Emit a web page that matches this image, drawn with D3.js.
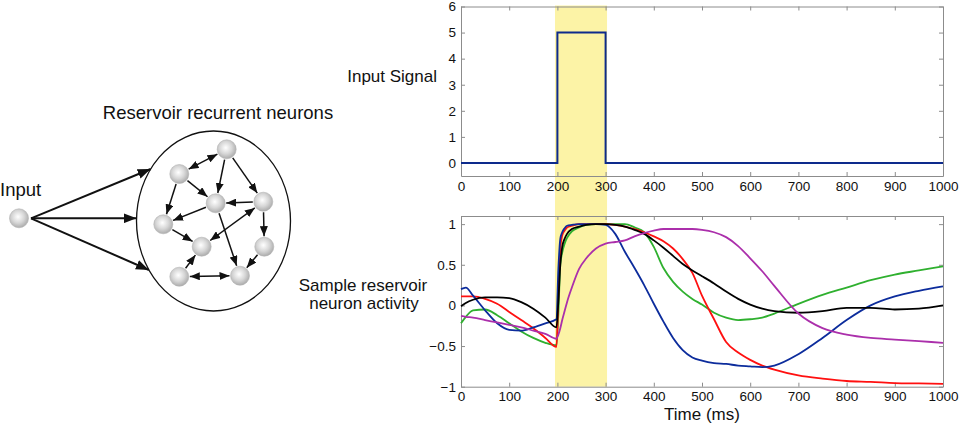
<!DOCTYPE html>
<html>
<head>
<meta charset="utf-8">
<script src="https://cdn.jsdelivr.net/npm/d3@7"></script>
<style>
  body { margin: 0; background: #fff; }
  svg { display: block; }
  text { font-family: "Liberation Sans", Arial, Helvetica, sans-serif; fill: #111; }
</style>
</head>
<body>
<div id="chart"></div>
<script>
// ---- data ----
const timeMs = [0, 10, 25, 50, 75, 100, 125, 150, 175, 198, 202, 206, 210, 215, 220, 230, 245, 260, 280, 300,
  320, 340, 360, 380, 400, 420, 440, 460, 480, 500, 525, 550, 575, 600, 625, 650, 700, 750, 800, 850, 900, 950, 1000];

const blueNeuron = [0.20, 0.22, 0.12, -0.06, -0.22, -0.30, -0.31, -0.27, -0.22, -0.17, 0.45, 0.82, 0.90, 0.95, 0.98, 0.99, 1.0, 1.0, 1.0, 0.99,
  0.88, 0.66, 0.46, 0.25, 0.02, -0.20, -0.40, -0.55, -0.64, -0.68, -0.71, -0.72, -0.74, -0.75, -0.76, -0.74, -0.60, -0.40, -0.18, 0.0, 0.11, 0.18, 0.235];
const redNeuron = [0.11, 0.11, 0.11, 0.08, 0.02, -0.08, -0.18, -0.28, -0.40, -0.51, 0.10, 0.70, 0.86, 0.92, 0.96, 0.98, 1.0, 1.0, 1.0, 1.0,
  0.99, 0.97, 0.94, 0.90, 0.85, 0.79, 0.70, 0.57, 0.40, 0.12, -0.17, -0.45, -0.58, -0.67, -0.74, -0.79, -0.86, -0.90, -0.93, -0.94, -0.955, -0.96, -0.965];
const greenNeuron = [-0.22, -0.14, -0.06, -0.05, -0.12, -0.22, -0.32, -0.40, -0.46, -0.49, -0.10, 0.50, 0.65, 0.76, 0.83, 0.91, 0.96, 0.99, 1.0, 1.0,
  1.0, 1.0, 0.96, 0.90, 0.72, 0.46, 0.29, 0.17, 0.08, 0.01, -0.09, -0.15, -0.18, -0.17, -0.15, -0.10, 0.02, 0.13, 0.22, 0.31, 0.38, 0.43, 0.48];
const blackNeuron = [-0.01, 0.03, 0.07, 0.10, 0.10, 0.09, 0.04, -0.04, -0.15, -0.27, 0.05, 0.50, 0.72, 0.82, 0.88, 0.94, 0.97, 0.99, 1.0, 1.0,
  0.99, 0.97, 0.93, 0.88, 0.80, 0.71, 0.61, 0.51, 0.43, 0.36, 0.27, 0.17, 0.08, 0.01, -0.04, -0.07, -0.09, -0.07, -0.03, -0.03, -0.05, -0.04, 0.0];
const magentaNeuron = [-0.13, -0.14, -0.15, -0.18, -0.21, -0.24, -0.27, -0.31, -0.35, -0.41, -0.36, -0.28, -0.18, -0.07, 0.04, 0.22, 0.45, 0.58, 0.70, 0.76,
  0.78, 0.80, 0.85, 0.89, 0.92, 0.94, 0.94, 0.94, 0.94, 0.93, 0.90, 0.84, 0.73, 0.58, 0.42, 0.24, -0.10, -0.28, -0.36, -0.40, -0.42, -0.44, -0.46];

const neuronSeries = [
  {name: "green", values: greenNeuron, color: "#2fb02f"},
  {name: "red", values: redNeuron, color: "#ff1010"},
  {name: "blue", values: blueNeuron, color: "#0c2c9c"},
  {name: "black", values: blackNeuron, color: "#000000"},
  {name: "magenta", values: magentaNeuron, color: "#ab2fab"}
];

const signalTime = [0, 200, 200, 300, 300, 1000];
const signalValue = [0, 0, 5, 5, 0, 0];
const stimWindow = [195, 303];

const timeTicks = [0, 100, 200, 300, 400, 500, 600, 700, 800, 900, 1000];
const signalTicks = [0, 1, 2, 3, 4, 5, 6];
const activityTicks = [-1, -0.5, 0, 0.5, 1];

// reservoir diagram
const reservoirNodes = [
  [226.7, 149.3], [179.3, 174], [215.7, 203.3], [263.3, 201.7], [163.3, 224.3],
  [201.7, 246.7], [264.3, 246.7], [179.3, 276.7], [240, 275.7]
];
const reservoirEdges = [
  [0, 1, true], [0, 2, false], [0, 3, false], [1, 4, false], [1, 2, false], [3, 2, false], [2, 4, false],
  [2, 8, false], [3, 5, true], [3, 6, false], [4, 5, false], [6, 8, false], [7, 5, false], [7, 8, true]
];
const inputNode = [19, 218.3];
const inputTargetsY = [169, 218.3, 270];

// ---- drawing ----
const W = 964, H = 425;
const svg = d3.select("#chart").append("svg").attr("width", W).attr("height", H);

const defs = svg.append("defs");
const grad = defs.append("radialGradient").attr("id", "ball")
  .attr("cx", "45%").attr("cy", "42%").attr("r", "60%");
grad.append("stop").attr("offset", "0%").attr("stop-color", "#ffffff");
grad.append("stop").attr("offset", "55%").attr("stop-color", "#d6d6d6");
grad.append("stop").attr("offset", "100%").attr("stop-color", "#a9a9a9");

function marker(id, len, half) {
  defs.append("marker").attr("id", id)
    .attr("viewBox", `0 ${-half} ${len} ${half * 2}`)
    .attr("refX", len).attr("refY", 0)
    .attr("markerUnits", "userSpaceOnUse")
    .attr("markerWidth", len).attr("markerHeight", half * 2)
    .attr("orient", "auto-start-reverse")
    .append("path").attr("d", `M0,${-half}L${len},0L0,${half}Z`).attr("fill", "#111");
}
marker("arrSmall", 10, 4);
marker("arrBig", 13, 5);

// diagram
const ell = {cx: 213.5, cy: 221, rx: 77, ry: 90};
const diag = svg.append("g");
diag.append("ellipse").attr("cx", ell.cx).attr("cy", ell.cy).attr("rx", ell.rx).attr("ry", ell.ry)
  .attr("fill", "none").attr("stroke", "#111").attr("stroke-width", 1.3);

inputTargetsY.forEach(function (ty) {
  const tx = ell.cx - ell.rx * Math.sqrt(1 - Math.pow((ty - ell.cy) / ell.ry, 2));
  diag.append("line")
    .attr("x1", inputNode[0] + 12).attr("y1", inputNode[1])
    .attr("x2", tx).attr("y2", ty)
    .attr("stroke", "#111").attr("stroke-width", 2)
    .attr("marker-end", "url(#arrBig)");
});

const nodeR = 9.5;
reservoirEdges.forEach(function (e) {
  const a = reservoirNodes[e[0]], b = reservoirNodes[e[1]];
  const dx = b[0] - a[0], dy = b[1] - a[1], len = Math.hypot(dx, dy);
  const ux = dx / len, uy = dy / len, off = nodeR + 1;
  const l = diag.append("line")
    .attr("x1", a[0] + ux * off).attr("y1", a[1] + uy * off)
    .attr("x2", b[0] - ux * off).attr("y2", b[1] - uy * off)
    .attr("stroke", "#111").attr("stroke-width", 1.5)
    .attr("marker-end", "url(#arrSmall)");
  if (e[2]) l.attr("marker-start", "url(#arrSmall)");
});

diag.selectAll("circle.node")
  .data(reservoirNodes.concat([inputNode]))
  .join("circle").attr("class", "node")
  .attr("cx", d => d[0]).attr("cy", d => d[1]).attr("r", nodeR)
  .attr("fill", "url(#ball)").attr("stroke", "#b4b4b4").attr("stroke-width", 0.6);

diag.append("text").attr("x", 218).attr("y", 118.5).attr("text-anchor", "middle")
  .style("font-size", "18.5px").text("Reservoir recurrent neurons");
diag.append("text").attr("x", 0).attr("y", 196).style("font-size", "18.5px").text("Input");

// plots
const x = d3.scaleLinear().domain([0, 1000]).range([461, 943]);
const ySig = d3.scaleLinear().domain([-0.5, 6]).range([176, 6.5]);
const yAct = d3.scaleLinear().domain([-1, 1.1]).range([386.7, 216]);

svg.append("rect")
  .attr("x", x(stimWindow[0])).attr("width", x(stimWindow[1]) - x(stimWindow[0]))
  .attr("y", ySig.range()[1] - 1).attr("height", yAct.range()[0] - ySig.range()[1] + 1)
  .attr("fill", "#fcf3a6");

const fmt = d => (d < 0 ? "\u2212" : "") + Math.abs(d);
const axisGray = "#8c8c8c";

function boxAxes(yScale, yTicks) {
  const g = svg.append("g");
  const [xa, xb] = x.range(), [ya, yb] = yScale.range();
  g.append("g").attr("transform", `translate(0,${ya})`)
    .call(d3.axisBottom(x).tickValues(timeTicks).tickFormat(fmt).tickSizeInner(-4).tickSizeOuter(0).tickPadding(5));
  g.append("g").attr("transform", `translate(0,${yb})`)
    .call(d3.axisTop(x).tickValues(timeTicks).tickFormat("").tickSizeInner(-4).tickSizeOuter(0));
  g.append("g").attr("transform", `translate(${xa},0)`)
    .call(d3.axisLeft(yScale).tickValues(yTicks).tickFormat(fmt).tickSizeInner(-4).tickSizeOuter(0).tickPadding(5));
  g.append("g").attr("transform", `translate(${xb},0)`)
    .call(d3.axisRight(yScale).tickValues(yTicks).tickFormat("").tickSizeInner(-4).tickSizeOuter(0));
  g.selectAll(".domain, .tick line").attr("stroke", axisGray);
  g.selectAll(".tick text").style("font-size", "13.5px").attr("fill", "#111");
  return g;
}

boxAxes(ySig, signalTicks);
boxAxes(yAct, activityTicks);

const sigLine = d3.line().x(d => x(d[0])).y(d => ySig(d[1]));
svg.append("path")
  .attr("d", sigLine(signalTime.map((t, i) => [t, signalValue[i]])))
  .attr("fill", "none").attr("stroke", "#0d2a8c").attr("stroke-width", 2);

const actLine = d3.line()
  .x((d, i) => x(timeMs[i]))
  .y(d => yAct(d))
  .curve(d3.curveMonotoneX);

svg.selectAll("path.neuron")
  .data(neuronSeries)
  .join("path").attr("class", "neuron")
  .attr("d", d => actLine(d.values))
  .attr("fill", "none").attr("stroke", d => d.color).attr("stroke-width", 1.8);

// labels
svg.append("text").attr("x", 437).attr("y", 82).attr("text-anchor", "end")
  .style("font-size", "17px").text("Input Signal");
svg.append("text").attr("x", 363).attr("y", 291).attr("text-anchor", "middle")
  .style("font-size", "17px").text("Sample reservoir");
svg.append("text").attr("x", 364).attr("y", 308.5).attr("text-anchor", "middle")
  .style("font-size", "17px").text("neuron activity");
svg.append("text").attr("x", 702).attr("y", 420).attr("text-anchor", "middle")
  .style("font-size", "17px").text("Time (ms)");
</script>
</body>
</html>
